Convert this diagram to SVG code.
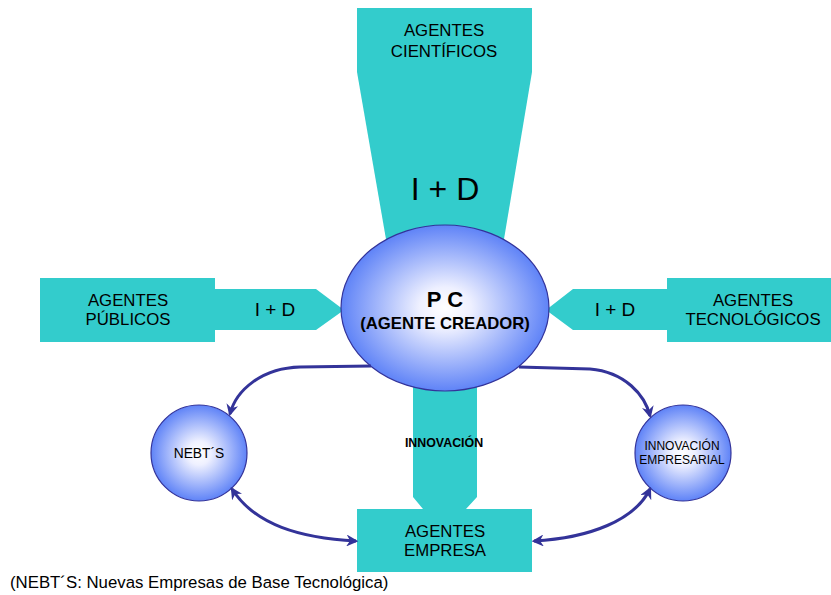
<svg xmlns="http://www.w3.org/2000/svg" width="831" height="595" viewBox="0 0 831 595">
  <defs>
    <radialGradient id="sphere" cx="50%" cy="50%" r="50%">
      <stop offset="0" stop-color="#ffffff"/>
      <stop offset="0.25" stop-color="#eef0ff"/>
      <stop offset="1" stop-color="#5f83f7"/>
    </radialGradient>
    <marker id="tip" viewBox="0 0 10 10" refX="8" refY="5" markerWidth="4" markerHeight="4" orient="auto-start-reverse" markerUnits="strokeWidth">
      <path d="M0,0 L10,5 L0,10 L3,5 Z" fill="#333399"/>
    </marker>
    <style>
      .band { fill: #33cccc; }
      .ball { fill: url(#sphere); stroke: #33339a; stroke-width: 1.2; }
      .t { font-family: "Liberation Sans", Arial, sans-serif; fill: #000; text-anchor: middle; }
      .lbl { font-size: 16.8px; }
      .b { font-weight: bold; }
      .link { fill: none; stroke: #333399; stroke-width: 3; marker-end: url(#tip); }
      .both { marker-start: url(#tip); }
    </style>
  </defs>

  <!-- top funnel: scientific agents -->
  <g id="cientificos">
    <path class="band" d="M357,8 L532,8 L532,72 L503,245 L387,245 L357,72 Z"/>
    <text class="t lbl" x="444" y="36">AGENTES</text>
    <text class="t lbl" x="444" y="57">CIENTÍFICOS</text>
    <text class="t" x="445" y="200" font-size="32">I + D</text>
  </g>

  <!-- left block: public agents -->
  <g id="publicos">
    <path class="band" d="M40,278 L215,278 L215,289 L316,289 L344,310 L316,330 L215,330 L215,342 L40,342 Z"/>
    <text class="t lbl" x="128" y="306">AGENTES</text>
    <text class="t lbl" x="128" y="325">PÚBLICOS</text>
    <text class="t" x="275" y="316" font-size="19">I + D</text>
  </g>

  <!-- right block: technology agents -->
  <g id="tecnologicos">
    <path class="band" d="M831,278 L667,278 L667,289 L573,289 L546,310 L573,330 L667,330 L667,342 L831,342 Z"/>
    <text class="t lbl" x="753" y="306">AGENTES</text>
    <text class="t lbl" x="753" y="325">TECNOLÓGICOS</text>
    <text class="t" x="615" y="316" font-size="19">I + D</text>
  </g>

  <!-- bottom: innovation stem into business agents -->
  <g id="empresa">
    <path class="band" d="M413,370 L477,370 L477,497 L466,509 L532,509 L532,572 L357,572 L357,509 L423,509 L413,497 Z"/>
    <text class="t b" x="444" y="447" font-size="12.4px">INNOVACIÓN</text>
    <text class="t lbl" x="445" y="537">AGENTES</text>
    <text class="t lbl" x="445" y="556">EMPRESA</text>
  </g>

  <!-- central creator -->
  <g id="pc">
    <ellipse class="ball" cx="445" cy="308" rx="104" ry="83"/>
    <text class="t b" x="445" y="307" font-size="22">P C</text>
    <text class="t b" x="445" y="329" font-size="16.7">(AGENTE CREADOR)</text>
  </g>

  <g id="nebts">
    <circle class="ball" cx="199" cy="453" r="48"/>
    <text class="t" x="199" y="458" font-size="13.8">NEBT´S</text>
  </g>

  <g id="innovacion-empresarial">
    <circle class="ball" cx="683" cy="453" r="48"/>
    <text class="t" x="682" y="450" font-size="12">INNOVACIÓN</text>
    <text class="t" x="682" y="464" font-size="12">EMPRESARIAL</text>
  </g>

  <!-- connectors -->
  <g id="connectors">
    <path class="link" d="M371,366 L300,367 C262,368 236,390 230,414"/>
    <path class="link" d="M519,367 L590,369 C625,372 645,395 650,416"/>
    <path class="link both" d="M232,489 C255,525 300,538 356,541"/>
    <path class="link both" d="M534,541 C590,538 635,520 650,489"/>
  </g>

  <text class="t" x="10" y="588" font-size="16.8" style="text-anchor:start">(NEBT´S: Nuevas Empresas de Base Tecnológica)</text>
</svg>
